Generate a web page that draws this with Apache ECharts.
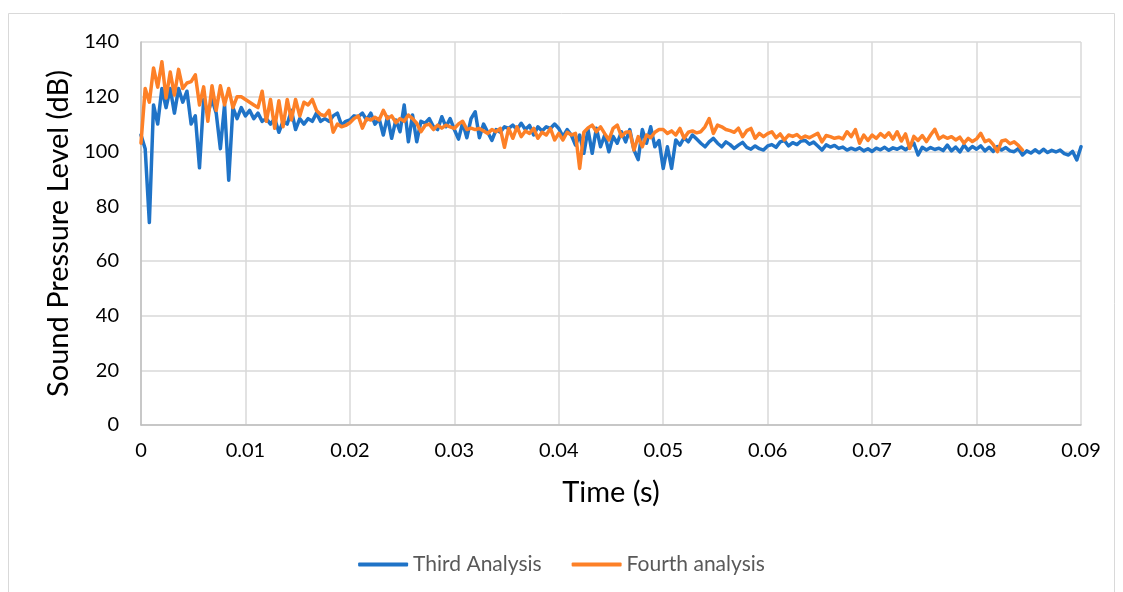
<!DOCTYPE html>
<html>
<head>
<meta charset="utf-8">
<script src="https://cdn.jsdelivr.net/npm/echarts@6/dist/echarts.min.js"></script>
<style>
  html, body { margin: 0; padding: 0; background: #fff; }
  #chart { width: 1123px; height: 592px; }
</style>
</head>
<body>
<div id="chart"></div>
<script>
// Sample spacing of the recorded series (s)
const SAMPLE_STEP = 0.0004;

const xTicks = ['0', '0.01', '0.02', '0.03', '0.04', '0.05', '0.06', '0.07', '0.08', '0.09'];
const yTicks = [0, 20, 40, 60, 80, 100, 120, 140];
const seriesNames = ['Third Analysis', 'Fourth analysis'];

// Third Analysis (dB), one value per sample, 0 .. 0.09 s
const thirdAnalysis = [
  106, 101, 74, 117, 110, 123, 116, 123, 114, 123, 118, 122, 110, 113, 94, 119, 114, 119, 114, 101, 117, 89.5, 116, 112, 116,
  113, 115, 112, 114, 111, 112, 110, 112, 107, 111, 110, 115, 108, 112, 110, 112, 111, 114, 111, 112, 111, 113, 114, 109.6, 111,
  111.5, 113, 112.7, 114, 111.5, 114, 110, 112, 106, 112.7, 104.8, 111.5, 107.2, 117, 103.5, 113.3, 103.5, 111, 110.3, 112, 109, 108, 112.7, 109, 112,
  108, 104.5, 110.5, 105, 112, 114.5, 105, 110, 107, 104, 108, 107, 109, 108.4, 109.6, 108, 110.3, 108, 109.5, 106, 109, 107.5, 109, 108.4, 110,
  108.4, 105.4, 108, 106, 102.3, 106, 99.3, 108, 99.3, 108.5, 101.7, 106, 99.9, 105.5, 103, 107.2, 103.5, 108, 100.5, 97, 108, 103, 109, 101.7, 104,
  93.8, 101.7, 93.8, 104.2, 102.3, 105, 103.5, 106, 104.5, 103, 101.7, 103.5, 104.8, 103, 101.7, 103.5, 102.5, 101.1, 102.3, 103.3, 101.5, 100.8, 102, 101, 100.5,
  102, 102.5, 101.5, 103.5, 104, 102, 103.2, 102.5, 103.8, 104, 102.6, 103.4, 102, 100.5, 102.4, 101.6, 102.2, 101.1, 101.6, 100.5, 101.2, 100.6, 101.3, 100.2, 101,
  100, 101.2, 100.6, 101.5, 100.4, 101.3, 100.8, 101.6, 100.6, 101.7, 103, 98.7, 101.5, 100.5, 101.4, 100.7, 101.2, 100.3, 102.3, 100.2, 101.6, 99.8, 102.3, 100.4, 101.8,
  100.8, 102, 100.2, 101.5, 100, 101.8, 100.5, 101.4, 100.2, 99.9, 101, 98.7, 100.2, 99.4, 100.6, 99.5, 100.8, 99.6, 100.4, 99.8, 100.5, 99.2, 98.7, 100, 96.9, 101.7
];

// Fourth analysis (dB), one value per sample, 0 .. 0.0844 s
const fourthAnalysis = [
  103, 123, 118, 130.5, 123.5, 132.8, 119.5, 129, 120.6, 130, 123, 125, 125.5, 128, 117, 123.6, 111, 124, 115, 124, 117, 123, 116, 120, 120,
  119, 118, 117, 116, 122, 111, 119, 108.5, 118.5, 109, 119, 111.5, 119, 113, 118, 117, 119, 115, 113.5, 113, 115, 107, 110, 109, 109.5,
  110.5, 112, 113, 108.5, 112, 111.5, 112.5, 111.5, 115, 112, 113, 110.5, 112, 111, 113.3, 112, 110.3, 107.2, 109.5, 110, 108, 109.6, 108.5, 109.6, 109,
  108.4, 110, 111, 108, 108.5, 108, 108.4, 107.5, 106.6, 108, 107.2, 108.4, 101.5, 108.4, 104.8, 109, 105.4, 107.5, 106.6, 108.4, 104.8, 107, 106, 108.4, 104.2,
  106.6, 104.2, 107, 106, 106.6, 93.8, 107, 108.6, 109.6, 107.2, 109, 106.5, 104.2, 108.4, 109.6, 105.5, 107, 107.2, 100.5, 105.4, 101.7, 106, 105, 107, 108,
  108, 106.6, 107.5, 106, 108.4, 104.8, 107, 107.5, 106.8, 107.2, 109, 112, 106.6, 109.6, 109, 108, 107.6, 107, 108.5, 105.4, 107.6, 108.4, 104.8, 106.6, 105.4,
  106.5, 107.2, 105, 106.4, 104.2, 106, 105.5, 106.2, 104.8, 105.6, 105, 105.8, 106.6, 103.5, 105.8, 105.4, 104.8, 105.2, 104.6, 107.2, 105.4, 108, 103, 106, 104,
  106, 104.8, 106.5, 105.2, 106.8, 104.5, 107.2, 103.8, 106.4, 101.1, 105.5, 104, 105.8, 103.6, 106, 108.1, 104.6, 105.6, 104.8, 105.4, 104.2, 105.2, 103, 104.8, 103.6,
  104.6, 106.6, 103.6, 104.2, 102.5, 99.9, 103.8, 104.2, 102.8, 103.5, 102.2, 100.5
];

function toPairs(values) {
  return values.map((v, i) => [+(i * SAMPLE_STEP).toFixed(4), v]);
}

const chart = echarts.init(document.getElementById('chart'), null, { renderer: 'canvas' });
const FONT = 'Lato, "Open Sans", sans-serif';
const BLUE = '#1f73c7';
const ORANGE = '#fd8027';

chart.setOption({
  animation: false,
  backgroundColor: '#ffffff',
  graphic: [{
    type: 'rect',
    shape: { x: 8.5, y: 13.5, width: 1106, height: 600 },
    style: { fill: 'none', stroke: '#d9d9d9', lineWidth: 1 },
    silent: true
  }],
  grid: { left: 141, right: 42, top: 42, bottom: 167, containLabel: false },
  legend: {
    data: seriesNames,
    bottom: 12,
    left: 'center',
    itemWidth: 50,
    itemHeight: 4,
    itemGap: 30,
    icon: 'roundRect',
    textStyle: { color: '#595959', fontSize: 21, fontFamily: FONT }
  },
  xAxis: {
    type: 'value',
    min: 0, max: 0.09, interval: 0.01,
    name: 'Time (s)',
    nameLocation: 'middle',
    nameGap: 53,
    nameTextStyle: { color: '#000', fontSize: 29, fontFamily: FONT },
    axisLine: { show: true, lineStyle: { color: '#bfbfbf', width: 1.5 } },
    axisTick: { show: false },
    axisLabel: {
      color: '#000', fontSize: 20, fontFamily: FONT, margin: 16,
      formatter: (v) => xTicks[Math.round(v / 0.01)]
    },
    splitLine: { show: true, lineStyle: { color: '#d9d9d9', width: 1.5 } }
  },
  yAxis: {
    type: 'value',
    min: 0, max: 140, interval: 20,
    name: 'Sound Pressure Level (dB)',
    nameLocation: 'middle',
    nameGap: 65,
    nameTextStyle: { color: '#000', fontSize: 29, fontFamily: FONT },
    axisLine: { show: true, lineStyle: { color: '#bfbfbf', width: 1.5 } },
    axisTick: { show: false },
    axisLabel: {
      color: '#000', fontSize: 20, fontFamily: FONT, margin: 22,
      formatter: (v) => String(yTicks[Math.round(v / 20)])
    },
    splitLine: { show: true, lineStyle: { color: '#d9d9d9', width: 1.5 } }
  },
  series: [
    {
      name: seriesNames[0],
      type: 'line',
      data: toPairs(thirdAnalysis),
      showSymbol: false,
      symbol: 'none',
      lineStyle: { color: BLUE, width: 3.5, join: 'round', cap: 'round' },
      itemStyle: { color: BLUE },
      z: 2
    },
    {
      name: seriesNames[1],
      type: 'line',
      data: toPairs(fourthAnalysis),
      showSymbol: false,
      symbol: 'none',
      lineStyle: { color: ORANGE, width: 3.5, join: 'round', cap: 'round' },
      itemStyle: { color: ORANGE },
      z: 3
    }
  ]
});
</script>
</body>
</html>
